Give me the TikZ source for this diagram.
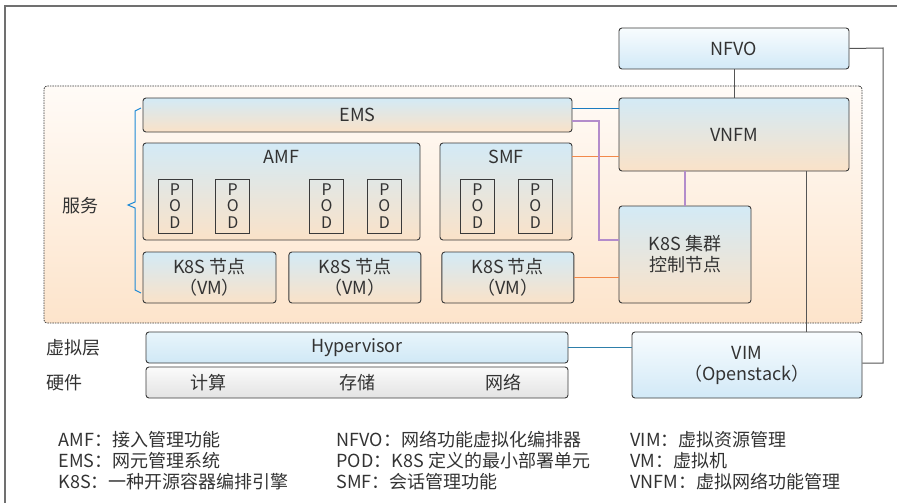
\documentclass[tikz,border=0pt]{standalone}
\usepackage{fontspec}
\setmainfont{Noto Sans CJK SC}
\usetikzlibrary{positioning,calc}
\definecolor{txtgray}{HTML}{333333}
\definecolor{boxline}{HTML}{3A3A3A}
\definecolor{svctop}{HTML}{FFFBF7}
\definecolor{svcbot}{HTML}{FDE4CB}
\definecolor{boxtop}{HTML}{D3EAF6}
\definecolor{boxbot}{HTML}{FAE2C8}
\definecolor{nftop}{HTML}{F8FCFE}
\definecolor{nfbot}{HTML}{D2E9F7}
\definecolor{hvtop}{HTML}{E8F5FB}
\definecolor{hvbot}{HTML}{D0E8F6}
\definecolor{hwtop}{HTML}{FBFBFB}
\definecolor{hwbot}{HTML}{E3E3E3}
\definecolor{linkgray}{HTML}{555555}
\definecolor{linkblue}{HTML}{1C7CC0}
\definecolor{linkpurple}{HTML}{B38CCB}
\definecolor{linkorange}{HTML}{F2894A}
\definecolor{linkteal}{HTML}{2E7FAA}
\definecolor{bracecol}{HTML}{1E8AD6}
\definecolor{framecol}{HTML}{707070}
\tikzset{gray link/.style={line width=1pt,draw=linkgray},
 blue link/.style={line width=1pt,draw=linkblue},
 purple link/.style={line width=1.2pt,draw=linkpurple},
 orange link/.style={line width=1pt,draw=linkorange},
 teal link/.style={line width=1pt,draw=linkteal}}

\begin{document}
\begin{tikzpicture}[x=1pt,y=-1pt,font=\fontsize{18}{21}\selectfont,text=txtgray,
 box/.style={draw=boxline,line width=0.9pt,rounded corners=3pt,top color=boxtop,bottom color=boxbot,inner sep=0pt,align=center},
 nfbox/.style={box,top color=nftop,bottom color=nfbot},
 pod/.style={draw=boxline,line width=0.8pt,minimum width=34pt,minimum height=54pt,inner sep=0pt,align=center,font=\fontsize{16}{16.5}\selectfont},
 titled/.style={label={[anchor=north,yshift=-4pt]north:#1}}]
\useasboundingbox (0,0) rectangle (897,503);
\draw[framecol,line width=1.5pt] (5,503) -- (5,6) -- (897,6);

\node[draw=boxline,line width=0.8pt,dash pattern=on 1.5pt off 1pt,rounded corners=3pt,top color=svctop,bottom color=svcbot,minimum width=818pt,minimum height=237pt] (SVC) at (453,204.5) {};

% management side
\node[nfbox,minimum width=230pt,minimum height=41pt] (NFVO) at (734,48.5) {NFVO};
\node[box,minimum width=230pt,minimum height=73pt] (VNFM) at (734,134.5) {VNFM};
\node[box,minimum width=132pt,minimum height=97pt] (K8SC) at (685,254.5) {K8S 集群\\控制节点};
\node[nfbox,minimum width=230pt,minimum height=66pt] (VIM) at (747,365) {VIM\\（Openstack）};

% services
\node[box,minimum width=429pt,minimum height=34pt] (EMS) at (357.5,115) {EMS};
\node[box,minimum width=277pt,minimum height=97pt,titled=AMF] (AMF) at (281.5,191.5) {};
\node[box,minimum width=132pt,minimum height=97pt,titled=SMF] (SMF) at (506,191.5) {};
\node[pod] (P1) at (175,206) {P\\O\\D};
\node[pod,right=23pt of P1] (P2) {P\\O\\D};
\node[pod,right=59pt of P2] (P3) {P\\O\\D};
\node[pod,right=23pt of P3] (P4) {P\\O\\D};
\node[pod] (P5) at (477.5,206) {P\\O\\D};
\node[pod,right=23pt of P5] (P6) {P\\O\\D};
\node[box,minimum width=133pt,minimum height=51pt] (N1) at (209.5,277.5) {K8S 节点\\（VM）};
\node[box,minimum width=132pt,minimum height=51pt,right=12pt of N1] (N2) {K8S 节点\\（VM）};
\node[box,minimum width=132pt,minimum height=51pt,right=20pt of N2] (N3) {K8S 节点\\（VM）};

% layers
\node[box,top color=hvtop,bottom color=hvbot,minimum width=422pt,minimum height=31pt] (HV) at (357,347.5) {Hypervisor};
\node[box,top color=hwtop,bottom color=hwbot,minimum width=422pt,minimum height=31pt] (HW) at (357,382.5) {};
\node (HC) at (208,382.5) {计算};
\node (HS) at (357,382.5) {存储};
\node (HN) at (503,382.5) {网络};

\node (SL) at (80,206) {服务};
\node[anchor=west] (VL) at (43,347.5) {虚拟层};
\node[anchor=west] (HL) at (43,383) {硬件};
\draw[bracecol,line width=1pt] (141,108) -- (135,111) -- (135,202) -- (128,205) -- (135,208) -- (135,290) -- (141,293);

\coordinate (RT) at (883,48);
\coordinate (PB) at (599,240);
\draw (NFVO) edge[gray link] (VNFM)
(K8SC.north) edge[purple link] (K8SC.north |- VNFM.south)
([yshift=7pt]EMS.east) edge[blue link] ([yshift=7pt]EMS.east -| VNFM.west)
([yshift=35.5pt]SMF.east) edge[orange link] ([yshift=35.5pt]SMF.east -| VNFM.west)
(N3.east) edge[orange link] (N3.east -| K8SC.west)
(HV.east) edge[teal link] (HV.east -| VIM.west)
([xshift=72pt]VNFM.south) edge[gray link] ([xshift=72pt]VNFM.south |- VIM.north);
\draw[purple link] ([yshift=-6pt]EMS.east) -| (PB) -- (PB -| K8SC.west);
\draw[gray link] (NFVO.east) -- (RT) |- ([yshift=2pt]VIM.east);

% legend
\node[anchor=west,align=left] (LG1) at (55,461) {AMF：接入管理功能\\EMS：网元管理系统\\K8S：一种开源容器编排引擎};
\node[anchor=west,align=left] (LG2) at (333,461) {NFVO：网络功能虚拟化编排器\\POD：K8S 定义的最小部署单元\\SMF：会话管理功能};
\node[anchor=west,align=left] (LG3) at (627,461) {VIM：虚拟资源管理\\VM：虚拟机\\VNFM：虚拟网络功能管理};
\end{tikzpicture}
\end{document}
